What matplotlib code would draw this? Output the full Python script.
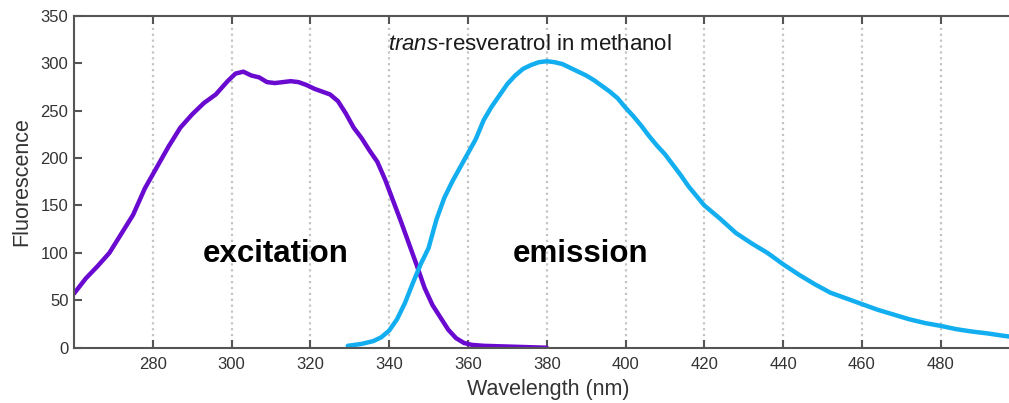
#!/usr/bin/env python3
"""Excitation / emission spectra of trans-resveratrol in methanol."""

import matplotlib
matplotlib.use("Agg")
import matplotlib.pyplot as plt

plt.rcParams["font.family"] = ["Liberation Sans", "DejaVu Sans"]
plt.rcParams["mathtext.fontset"] = "custom"
plt.rcParams["mathtext.it"] = "Liberation Sans:italic"
plt.rcParams["mathtext.rm"] = "Liberation Sans"

# excitation spectrum (wavelength nm, fluorescence)
EXC_WL = [260, 263, 266, 269, 272, 275, 278, 281, 284, 287, 290, 293, 296,
          299, 301, 303, 305, 307, 309, 311, 313, 315, 317, 319, 321, 323,
          325, 327, 329, 331, 333, 335, 337, 339, 341, 343, 345, 347, 349,
          351, 353, 355, 357, 359, 361, 364, 368, 372, 376, 380]
EXC_F = [57, 73, 86, 100, 120, 140, 168, 190, 212, 232, 246, 258, 267,
         281, 289, 291, 287, 285, 280, 279, 280, 281, 280, 277, 273, 270,
         267, 260, 247, 232, 221, 208, 196, 177, 155, 133, 110, 87, 63,
         45, 32, 19, 10, 5, 3, 2, 1.5, 1, 0.5, 0]

# emission spectrum
EM_WL = [329.5, 333, 336, 338, 340, 342, 344, 346, 348, 350, 352, 354, 356,
         358, 360, 362, 364, 366, 368, 370, 372, 374, 376, 378, 380, 382,
         384, 386, 388, 390, 392, 394, 396, 398, 400, 402, 404, 406, 408,
         410, 412, 414, 416, 418, 420, 424, 428, 432, 436, 440, 444, 448,
         452, 456, 460, 464, 468, 472, 476, 480, 484, 488, 492, 496, 498]
EM_F = [2, 4, 7, 11, 18, 30, 47, 68, 88, 105, 135, 158, 175,
        190, 205, 220, 240, 254, 266, 278, 287, 294, 298, 301, 302, 301,
        299, 295, 291, 287, 282, 276, 270, 263, 253, 244, 234, 223, 213,
        204, 193, 182, 170, 160, 150, 136, 121, 110, 100, 88, 77, 67,
        58, 52, 46, 40, 35, 30, 26, 23, 19.5, 17, 15, 12.5, 11.5]

X_TICKS = [280, 300, 320, 340, 360, 380, 400, 420, 440, 460, 480]
Y_TICKS = [0, 50, 100, 150, 200, 250, 300, 350]


def main() -> None:
    fig = plt.figure(figsize=(10.09, 4.03), dpi=100)
    ax = fig.add_axes([0.0733, 0.1372, 0.9293, 0.8238])

    ax.plot(EXC_WL, EXC_F, color="#6a0ad0", linewidth=3.2, solid_capstyle="round")
    ax.plot(EM_WL, EM_F, color="#12aef0", linewidth=3.2, solid_capstyle="round")

    ax.set_xlim(260, 498)
    ax.set_ylim(0, 350)
    ax.set_xticks(X_TICKS)
    ax.set_yticks(Y_TICKS)
    ax.grid(True, axis="x", linestyle=":", color="#c4c4c4", linewidth=1.6)
    ax.tick_params(direction="in", length=6, width=1.5, color="#555555",
                   labelcolor="#333333", labelsize=12, top=True)
    ax.tick_params(axis="x", pad=7)
    ax.tick_params(axis="y", pad=4)
    ax.spines["right"].set_visible(False)
    for side in ("left", "top", "bottom"):
        ax.spines[side].set_color("#555555")
        ax.spines[side].set_linewidth(1.5)

    ax.set_xlabel("Wavelength (nm)", fontsize=15.5, color="#333333")
    ax.xaxis.set_label_coords(0.506, -0.093)
    ax.set_ylabel("Fluorescence", fontsize=15.5, color="#333333", labelpad=6)

    ax.text(339.8, 313.8, r"$\mathit{trans}$-resveratrol in methanol",
            fontsize=16, color="#1a1a1a", ha="left", va="baseline")
    ax.text(292.7, 90, "excitation", fontsize=22.5, weight="bold",
            ha="left", va="baseline", color="black")
    ax.text(371.5, 90, "emission", fontsize=22.5, weight="bold",
            ha="left", va="baseline", color="black")

    fig.savefig("out.png", dpi=100)


if __name__ == "__main__":
    main()
